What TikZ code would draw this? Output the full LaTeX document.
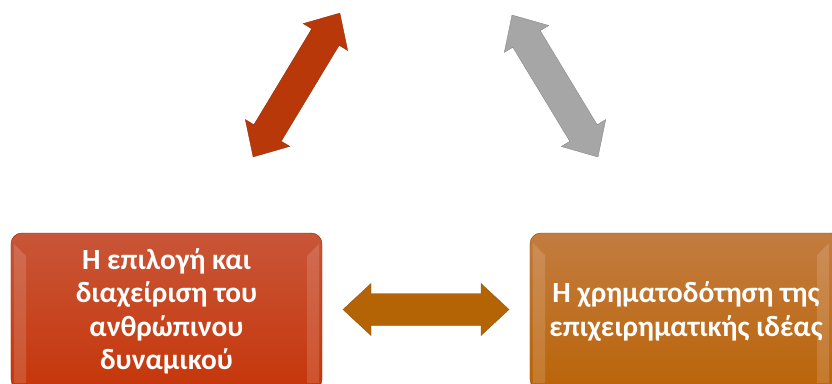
\documentclass[tikz,border=0pt]{standalone}
\usepackage{fontspec}
\setmainfont{Carlito}
\usetikzlibrary{calc}
\definecolor{boxred}{RGB}{198,54,10}
\definecolor{boxredtop}{RGB}{200,86,56}
\definecolor{boxorange}{RGB}{186,100,8}
\definecolor{boxorangetop}{RGB}{195,124,64}
\definecolor{arrred}{RGB}{184,56,10}
\definecolor{arrgray}{RGB}{166,166,166}
\definecolor{arrbrown}{RGB}{180,100,5}
% double block arrow: [style](centre)(angle:half length)
\def\dblarrow[#1](#2)(#3:#4){\draw[#1,shift={#2},rotate=#3] (-#4,0) -- ({-#4+28},26) -- ({-#4+28},16) -- ({#4-28},16) -- ({#4-28},26) -- (#4,0) -- ({#4-28},-26) -- ({#4-28},-16) -- ({-#4+28},-16) -- ({-#4+28},-26) -- cycle;}

\begin{document}
\begin{tikzpicture}[x=0.03cm,y=-0.03cm,
  box/.style={rectangle, rounded corners=0.33cm, minimum height=4.71cm, text=white, align=center,
    font=\bfseries\fontsize{25}{28.5}\selectfont},
  redbox/.style={box, top color=boxredtop, bottom color=boxred, draw=boxred!75!black, minimum width=9.33cm},
  orangebox/.style={box, top color=boxorangetop, bottom color=boxorange, draw=boxorange!75!black, minimum width=9.36cm},
  bevel/.style={fill=white, opacity=0.14}]
		%%%%% START %%%%%
		\clip (0,0) rectangle (832,383);
		
		\node[redbox] (people) at (166.5,311.5) {Η επιλογή και\\διαχείριση του\\ανθρώπινου\\δυναμικού};
		\node[orangebox] (funding) at (686,311.5) {Η χρηματοδότηση της\\επιχειρηματικής ιδέας};
		
		\fill[bevel] (14,244) -- (26,256) -- (26,383) -- (14,383) -- cycle;
		\fill[bevel] (319,244) -- (307,256) -- (307,383) -- (319,383) -- cycle;
		\fill[bevel] (533,243) -- (545,255) -- (545,383) -- (533,383) -- cycle;
		\fill[bevel] (829,243) -- (817,255) -- (817,383) -- (829,383) -- cycle;
		
		\dblarrow[fill=arrred, draw=arrred!80!black, line width=0.3pt]((296.5,85))(58.9:84);
		\dblarrow[fill=arrgray, draw=arrgray!80!black, line width=0.3pt]((555,86))(-58.8:83);
		\dblarrow[fill=arrbrown, draw=arrbrown!80!black, line width=0.3pt](($(people.east)!0.5!(funding.west)+(0,-2)$))(0:83);
		
		%%%%% END %%%%%
\end{tikzpicture}
\end{document}
